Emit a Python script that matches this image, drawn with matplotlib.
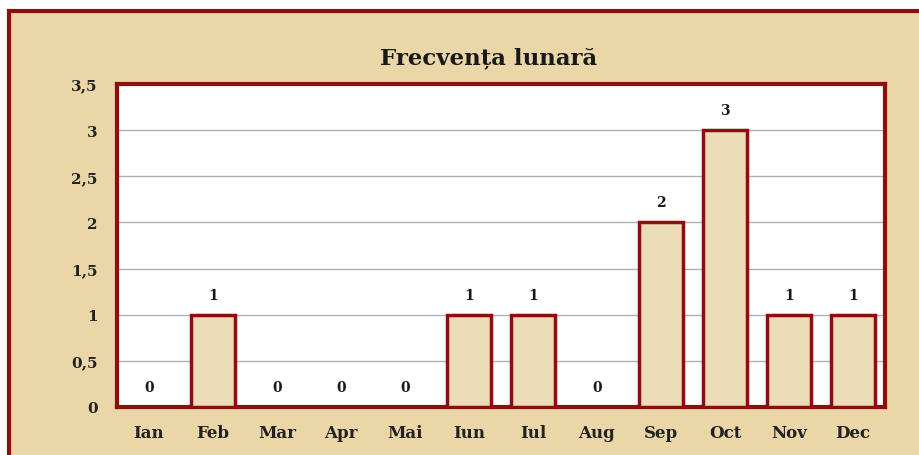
import numpy as np
import matplotlib.pyplot as plt
from matplotlib.patches import Rectangle

# monthly counts
months = ['Ian', 'Feb', 'Mar', 'Apr', 'Mai', 'Iun', 'Iul', 'Aug', 'Sep', 'Oct', 'Nov', 'Dec']
counts = [0, 1, 0, 0, 0, 1, 1, 0, 2, 3, 1, 1]
yticks = [0, 0.5, 1, 1.5, 2, 2.5, 3, 3.5]
ytick_labels = ['0', '0,5', '1', '1,5', '2', '2,5', '3', '3,5']

DARK_RED = '#8b0f0f'
PAPER = '#ead6a6'
BAR_FILL = '#ecdcb8'

# wide serif looks closer to the stretched Times in the original
plt.rcParams['font.family'] = ['DejaVu Serif']
plt.rcParams['font.weight'] = 'bold'

W, H = 920, 456
fig = plt.figure(figsize=(W / 100, H / 100), dpi=100)
fig.patch.set_facecolor('white')

# parchment background with dark red frame (cut off at right/bottom)
fig.patches.append(Rectangle((9 / W, -0.05), 1.0, 1 - 12 / H + 0.05,
                             transform=fig.transFigure, facecolor=PAPER,
                             edgecolor=DARK_RED, linewidth=3, zorder=-10))

ax = fig.add_axes([117 / W, 1 - 408 / H, (885 - 117) / W, (408 - 85) / H])
ax.set_facecolor('white')

x = np.arange(len(months))
bars = ax.bar(x, counts, width=0.68, color=BAR_FILL, edgecolor=DARK_RED,
              linewidth=2.5, zorder=3)

for xi, c in zip(x, counts):
    ax.annotate(str(c), (xi, c), xytext=(0, 14.5), textcoords='offset points',
                ha='center', va='center', fontsize=10, fontweight='bold', color='#1a1a1a')

ax.set_xlim(-0.5, len(months) - 0.5)
ax.set_ylim(0, 3.5)
ax.set_yticks(yticks)
ax.set_yticklabels(ytick_labels)
ax.set_xticks(x)
ax.set_xticklabels(months)
ax.tick_params(axis='both', length=0, colors='#222222')
ax.tick_params(axis='y', pad=14, labelsize=11)
ax.tick_params(axis='x', pad=12, labelsize=12)
ax.yaxis.grid(True, color='#b0b0b0', linewidth=1)
ax.set_axisbelow(True)

for s in ax.spines.values():
    s.set_color(DARK_RED)
    s.set_linewidth(3)

fig.text(489 / W, 1 - 58 / H, 'Frecvența lunară', ha='center', va='center',
         fontsize=16.5, fontweight='bold', color='#1a1a1a')

fig.savefig('out.png', dpi=100, facecolor=fig.get_facecolor())
